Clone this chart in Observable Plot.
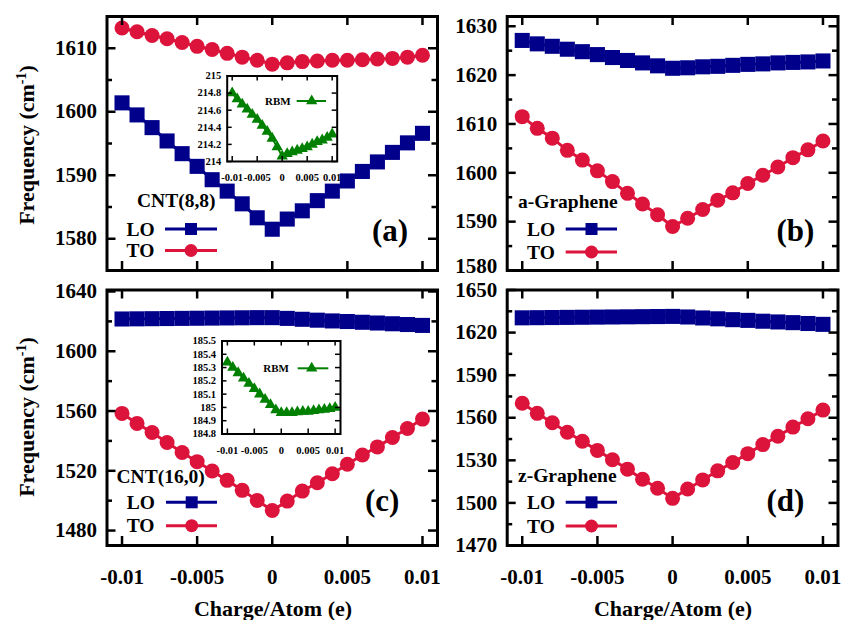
<!DOCTYPE html>
<html>
<head>
<meta charset="utf-8">
<script src="https://cdn.jsdelivr.net/npm/d3@7"></script>
<script src="https://cdn.jsdelivr.net/npm/@observablehq/plot@0.6"></script>
<style>
  body { margin: 0; background: #fff; }
</style>
</head>
<body>
<div id="chart"></div>
<script>
// ---------------- data ----------------
const charge = [-0.010, -0.009, -0.008, -0.007, -0.006, -0.005, -0.004, -0.003, -0.002, -0.001, 0,
                0.001, 0.002, 0.003, 0.004, 0.005, 0.006, 0.007, 0.008, 0.009, 0.010];
const xTicks = [-0.01, -0.005, 0, 0.005, 0.01];
const xTickLabels = ["-0.01", "-0.005", "0", "0.005", "0.01"];

const cnt88LO = [1601.4, 1599.5, 1597.5, 1595.4, 1593.4, 1591.4, 1589.3, 1587.5, 1585.5, 1583.3, 1581.5,
                 1583.1, 1584.4, 1586.0, 1587.5, 1589.1, 1590.6, 1592.1, 1593.6, 1595.1, 1596.6];
const cnt88TO = [1613.2, 1612.6, 1612.0, 1611.5, 1610.9, 1610.3, 1609.8, 1609.2, 1608.6, 1608.1, 1607.5,
                 1607.7, 1607.9, 1608.0, 1608.1, 1608.1, 1608.2, 1608.3, 1608.4, 1608.6, 1608.9];
const cnt88RBM = [214.80, 214.73, 214.67, 214.61, 214.55, 214.49, 214.42, 214.35, 214.27, 214.17, 214.06,
                  214.09, 214.11, 214.13, 214.15, 214.17, 214.20, 214.23, 214.25, 214.28, 214.32];

const aGrLO = [1627.1, 1626.4, 1625.9, 1625.3, 1624.8, 1624.2, 1623.6, 1623.0, 1622.5, 1621.9, 1621.4,
               1621.5, 1621.7, 1621.8, 1622.0, 1622.2, 1622.3, 1622.5, 1622.6, 1622.7, 1622.9];
const aGrTO = [1611.5, 1609.1, 1607.1, 1604.6, 1602.6, 1600.4, 1598.2, 1595.8, 1593.6, 1591.4, 1589.0,
               1590.7, 1592.5, 1594.4, 1595.9, 1597.8, 1599.5, 1601.2, 1603.1, 1604.7, 1606.5];

const cnt160LO = [1621.6, 1621.7, 1621.8, 1621.9, 1622.0, 1622.1, 1622.2, 1622.3, 1622.4, 1622.5, 1622.5,
                  1622.0, 1621.4, 1620.8, 1620.3, 1619.9, 1619.4, 1618.9, 1618.4, 1617.9, 1617.3];
const cnt160TO = [1558.4, 1551.7, 1545.6, 1538.9, 1532.2, 1526.1, 1519.9, 1513.6, 1506.9, 1500.2, 1493.4,
                  1499.7, 1506.4, 1512.0, 1518.0, 1524.4, 1530.6, 1536.0, 1542.3, 1548.3, 1554.6];
const cnt160RBM = [185.34, 185.30, 185.26, 185.22, 185.18, 185.14, 185.10, 185.06, 185.02, 184.98, 184.96,
                   184.96, 184.96, 184.965, 184.97, 184.97, 184.975, 184.98, 184.985, 184.99, 185.00];

const zGrLO = [1630.4, 1630.5, 1630.6, 1630.7, 1630.8, 1630.9, 1631.0, 1631.1, 1631.2, 1631.3, 1631.4,
               1631.0, 1630.3, 1629.7, 1629.1, 1628.6, 1628.0, 1627.5, 1627.0, 1626.4, 1625.8];
const zGrTO = [1570.2, 1563.1, 1556.5, 1549.8, 1543.4, 1537.0, 1530.4, 1523.8, 1516.7, 1510.3, 1503.2,
               1509.8, 1516.2, 1522.6, 1528.5, 1534.7, 1541.1, 1547.0, 1553.4, 1559.3, 1565.4];

const yTicksA = [1580, 1590, 1600, 1610];
const yMinorA = [1585, 1595, 1605];
const yTicksB = [1580, 1590, 1600, 1610, 1620, 1630];
const yMinorB = [1585, 1595, 1605, 1615, 1625];
const yTicksC = [1480, 1520, 1560, 1600, 1640];
const yMinorC = [1500, 1540, 1580, 1620];
const yTicksD = [1470, 1500, 1530, 1560, 1590, 1620, 1650];
const yMinorD = [1485, 1515, 1545, 1575, 1605, 1635];
const rbmTicksA = [214, 214.2, 214.4, 214.6, 214.8, 215];
const rbmTicksC = [184.8, 184.9, 185, 185.1, 185.2, 185.3, 185.4, 185.5];

const seriesNames = ["LO", "TO"];
const panelTitles = ["CNT(8,8)", "a-Graphene", "CNT(16,0)", "z-Graphene"];
const panelTags = ["(a)", "(b)", "(c)", "(d)"];

// ---------------- style ----------------
const FONT = "'Liberation Serif', 'Times New Roman', serif";
const LO_COLOR = "#00008b";
const TO_COLOR = "#dc143c";
const RBM_COLOR = "#008000";
const xDomain = [-0.011, 0.011];

const container = d3.select("#chart")
  .style("position", "relative").style("width", "847px").style("height", "620px")
  .style("background", "#fff").style("overflow", "hidden");

function place(svg, left, top) {
  svg.style.position = "absolute";
  svg.style.left = left + "px";
  svg.style.top = top + "px";
  svg.style.background = "transparent";
  svg.style.overflow = "visible";
  svg.style.maxWidth = "none";
  svg.style.fontFamily = FONT;
  svg.style.fontWeight = "bold";
  container.node().appendChild(svg);
}

function innerTicks(iw, ih, major, minor, xt, lenMaj, lenMin, sw) {
  const st = {stroke: "#000", strokeWidth: sw};
  const m = [
    Plot.tickY(major, {y: d => d, insetRight: iw - lenMaj, ...st}),
    Plot.tickY(major, {y: d => d, insetLeft: iw - lenMaj, ...st}),
    Plot.tickX(xt, {x: d => d, insetBottom: ih - lenMaj, ...st}),
    Plot.tickX(xt, {x: d => d, insetTop: ih - lenMaj, ...st})
  ];
  if (minor && minor.length) {
    m.push(Plot.tickY(minor, {y: d => d, insetRight: iw - lenMin, ...st}));
    m.push(Plot.tickY(minor, {y: d => d, insetLeft: iw - lenMin, ...st}));
  }
  return m;
}

function mainPanel({lo, to, yDomain, yMajor, yMinor, width, height, mL, mT, mR, mB, bottom, lowLabelDy = 0}) {
  const iw = width - mL - mR, ih = height - mT - mB;
  const loRows = charge.map((c, i) => ({c, f: lo[i]}));
  const toRows = charge.map((c, i) => ({c, f: to[i]}));
  const axisOpts = {tickSize: 0, tickPadding: 10, fontSize: 21, tickFormat: d => String(d), label: null};
  const marks = [
    Plot.line(loRows, {x: "c", y: "f", stroke: LO_COLOR, strokeWidth: 3}),
    Plot.dot(loRows, {x: "c", y: "f", symbol: "square", r: 8.5, fill: LO_COLOR}),
    Plot.line(toRows, {x: "c", y: "f", stroke: TO_COLOR, strokeWidth: 3}),
    Plot.dot(toRows, {x: "c", y: "f", symbol: "circle", r: 7.5, fill: TO_COLOR}),
    ...innerTicks(iw, ih, yMajor, yMinor, xTicks, 9, 5.5, 2.5),
    Plot.frame({stroke: "#000", strokeWidth: 3})
  ];
  if (lowLabelDy) {
    marks.push(Plot.axisY({...axisOpts, ticks: yMajor.slice(1)}));
    marks.push(Plot.axisY({...axisOpts, ticks: yMajor.slice(0, 1), dy: lowLabelDy}));
  } else {
    marks.push(Plot.axisY({...axisOpts, ticks: yMajor}));
  }
  if (bottom) {
    marks.push(Plot.axisX({ticks: xTicks, tickSize: 0, tickPadding: 24, fontSize: 21,
      tickFormat: d => xTickLabels[xTicks.indexOf(d)], label: null}));
  }
  return Plot.plot({
    width, height, marginLeft: mL, marginTop: mT, marginRight: mR, marginBottom: mB,
    x: {domain: xDomain, axis: bottom ? undefined : null},
    y: {domain: yDomain},
    marks
  });
}

function insetPanel({vals, yDomain, yTicks, width, height, mL, mT, mR, mB, xPad}) {
  const iw = width - mL - mR, ih = height - mT - mB;
  const rows = charge.map((c, i) => ({c, f: vals[i]}));
  return Plot.plot({
    width, height, marginLeft: mL, marginTop: mT, marginRight: mR, marginBottom: mB,
    x: {domain: xDomain},
    y: {domain: yDomain},
    marks: [
      Plot.frame({fill: "#fff"}),
      Plot.line(rows, {x: "c", y: "f", stroke: RBM_COLOR, strokeWidth: 2}),
      Plot.dot(rows, {x: "c", y: "f", symbol: "triangle", r: 4.2, fill: RBM_COLOR}),
      ...innerTicks(iw, ih, yTicks, [], xTicks, 5, 3, 1.5),
      Plot.frame({stroke: "#000", strokeWidth: 2}),
      Plot.axisY({ticks: yTicks, tickSize: 0, tickPadding: 6, fontSize: 10.5, tickFormat: d => String(d), label: null}),
      Plot.axisX({ticks: xTicks, tickSize: 0, tickPadding: xPad, fontSize: 10.5,
        tickFormat: d => xTickLabels[xTicks.indexOf(d)], label: null})
    ]
  });
}

// ---------------- panels ----------------
place(mainPanel({lo: cnt88LO, to: cnt88TO, yDomain: [1575, 1615], yMajor: yTicksA, yMinor: yMinorA,
  width: 440, height: 275, mL: 106.5, mT: 16, mR: 3, mB: 5, bottom: false}), 0, 0);
place(mainPanel({lo: aGrLO, to: aGrTO, yDomain: [1580, 1632], yMajor: yTicksB, yMinor: yMinorB,
  width: 407, height: 275, mL: 66.7, mT: 16, mR: 9.5, mB: 5, bottom: false, lowLabelDy: -4}), 440, 0);
place(mainPanel({lo: cnt160LO, to: cnt160TO, yDomain: [1470, 1641], yMajor: yTicksC, yMinor: yMinorC,
  width: 440, height: 345, mL: 106.5, mT: 14.5, mR: 3, mB: 75, bottom: true}), 0, 275);
place(mainPanel({lo: zGrLO, to: zGrTO, yDomain: [1470, 1650], yMajor: yTicksD, yMinor: yMinorD,
  width: 407, height: 345, mL: 66.7, mT: 14.5, mR: 9.5, mB: 75, bottom: true}), 440, 275);

// insets
place(insetPanel({vals: cnt88RBM, yDomain: [214, 215], yTicks: rbmTicksA,
  width: 156.7, height: 113, mL: 40.7, mT: 5.5, mR: 6, mB: 22, xPad: 12}), 186, 70);
place(insetPanel({vals: cnt160RBM, yDomain: [184.8, 185.5], yTicks: rbmTicksC,
  width: 165, height: 120.5, mL: 40.5, mT: 5.5, mR: 6, mB: 22, xPad: 12.5}), 181, 335);

// ---------------- overlay: titles, legends, tags ----------------
const ov = container.append("svg")
  .attr("width", 847).attr("height", 620)
  .style("position", "absolute").style("left", "0px").style("top", "0px")
  .style("font-family", FONT).style("font-weight", "bold").style("pointer-events", "none");

function ytitle(cx, cy) {
  const t = ov.append("text").attr("transform", `translate(${cx},${cy}) rotate(-90)`)
    .attr("text-anchor", "middle").attr("dy", "0.34em").attr("font-size", 22).attr("fill", "#000");
  t.append("tspan").text("Frequency (cm");
  t.append("tspan").attr("dy", -8).attr("font-size", 14).text("-1");
  t.append("tspan").attr("dy", 8).text(")");
}
ytitle(27, 145);
ytitle(27, 417);

function xtitle(cx, cy) {
  ov.append("text").attr("x", cx).attr("y", cy).attr("dy", "0.34em").attr("text-anchor", "middle")
    .attr("font-size", 22).text("Charge/Atom (e)");
}
xtitle(273, 609);
xtitle(673, 609);

function legendBlock({title, tx, ty, lx, loY, toY, x1, x2, mx, tag, tagX, tagY}) {
  ov.append("text").attr("x", tx).attr("y", ty).attr("dy", "0.34em").attr("font-size", 19.5).text(title);
  [[seriesNames[0], loY, LO_COLOR, "square"], [seriesNames[1], toY, TO_COLOR, "circle"]].forEach(([name, y, col, sym]) => {
    ov.append("text").attr("x", lx).attr("y", y).attr("dy", "0.34em").attr("font-size", 19.5).text(name);
    ov.append("line").attr("x1", x1).attr("x2", x2).attr("y1", y).attr("y2", y)
      .attr("stroke", col).attr("stroke-width", 3);
    if (sym === "square") {
      ov.append("rect").attr("x", mx - 6).attr("y", y - 6).attr("width", 12).attr("height", 12).attr("fill", col);
    } else {
      ov.append("circle").attr("cx", mx).attr("cy", y).attr("r", 6.5).attr("fill", col);
    }
  });
  ov.append("text").attr("x", tagX).attr("y", tagY).attr("dy", "0.34em").attr("font-size", 31).text(tag);
}
legendBlock({title: panelTitles[0], tx: 137, ty: 200, lx: 126.5, loY: 229, toY: 250.5, x1: 165, x2: 217, mx: 191,
  tag: panelTags[0], tagX: 372, tagY: 230});
legendBlock({title: panelTitles[1], tx: 518, ty: 201.5, lx: 527, loY: 229, toY: 252, x1: 565.7, x2: 617, mx: 591.5,
  tag: panelTags[1], tagX: 776.5, tagY: 230});
legendBlock({title: panelTitles[2], tx: 116.5, ty: 476.5, lx: 126.7, loY: 502.3, toY: 525.7, x1: 166, x2: 217, mx: 191.7,
  tag: panelTags[2], tagX: 365, tagY: 500});
legendBlock({title: panelTitles[3], tx: 518, ty: 475, lx: 527, loY: 502.3, toY: 526, x1: 565.7, x2: 617, mx: 591.5,
  tag: panelTags[3], tagX: 766.5, tagY: 500});

function rbmLegend(tx, y, x1, x2, mx) {
  ov.append("text").attr("x", tx).attr("y", y).attr("dy", "0.34em").attr("font-size", 11).text("RBM");
  ov.append("line").attr("x1", x1).attr("x2", x2).attr("y1", y).attr("y2", y)
    .attr("stroke", RBM_COLOR).attr("stroke-width", 2);
  ov.append("path").attr("d", d3.symbol(d3.symbolTriangle, Math.PI * 4.2 * 4.2)())
    .attr("transform", `translate(${mx},${y})`).attr("fill", RBM_COLOR);
}
rbmLegend(265, 101, 296.7, 326, 311.7);
rbmLegend(263.3, 368.3, 297.7, 328.3, 311.7);
</script>
</body>
</html>
